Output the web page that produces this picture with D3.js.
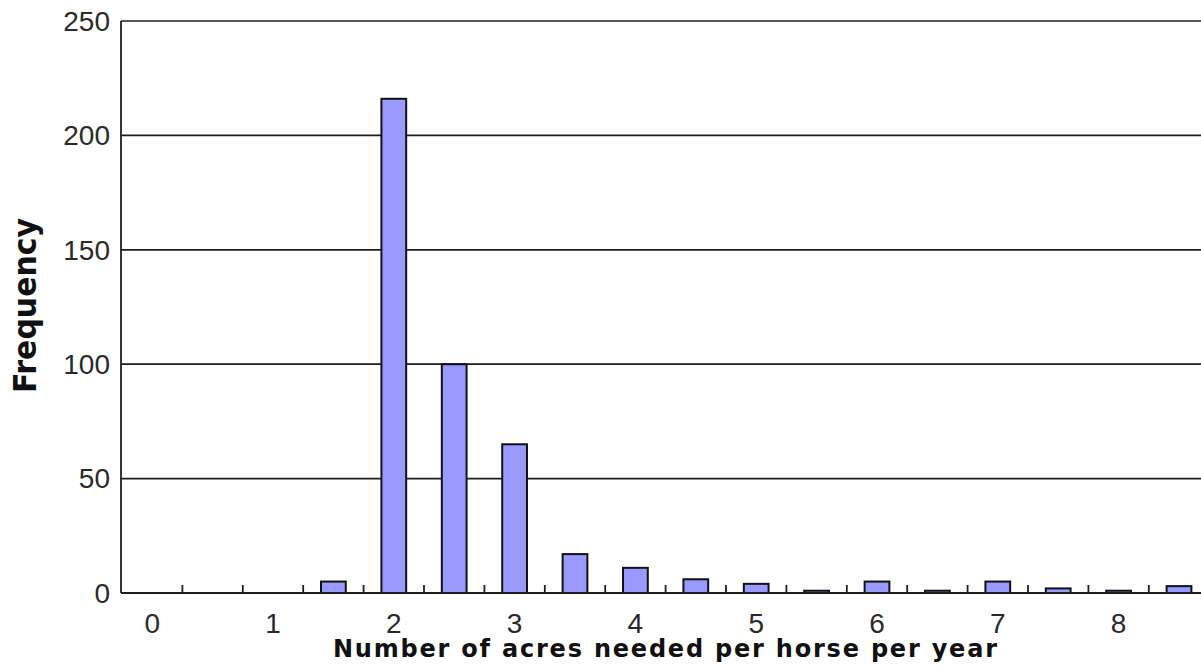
<!DOCTYPE html>
<html>
<head>
<meta charset="utf-8">
<script src="https://cdn.jsdelivr.net/npm/d3@7"></script>
<style>
  html, body { margin: 0; padding: 0; background: #fff; overflow: hidden; }
  svg { display: block; }
</style>
</head>
<body>
<div id="chart"></div>
<script>
// ---- data ----
const categories = ["0","0.5","1","1.5","2","2.5","3","3.5","4","4.5","5","5.5","6","6.5","7","7.5","8","8.5"];
const frequencies = [0, 0, 0, 5, 216, 100, 65, 17, 11, 6, 4, 1, 5, 1, 5, 2, 1, 3];
const xTickLabels = ["0","1","2","3","4","5","6","7","8"];
const yTickValues = [0, 50, 100, 150, 200, 250];
const xTitle = "Number of acres needed per horse per year";
const yTitle = "Frequency";

// ---- layout ----
const W = 1201, H = 665;
const plotLeft = 122, bandW = 60.4;
const plotTop = 21, plotBottom = 593;

const svg = d3.select("#chart").append("svg")
  .attr("width", W).attr("height", H);

const x = d3.scaleBand()
  .domain(categories)
  .range([plotLeft, plotLeft + bandW * categories.length])
  .paddingInner(0).paddingOuter(0);

const y = d3.scaleLinear().domain([0, 250]).range([plotBottom, plotTop]);

const lineColor = "#1e1e1e";

// gridlines
svg.append("g").selectAll("line")
  .data(yTickValues.filter(v => v > 0))
  .join("line")
  .attr("x1", plotLeft - 1).attr("x2", W)
  .attr("y1", d => y(d)).attr("y2", d => y(d))
  .attr("stroke", lineColor).attr("stroke-width", 1.7);

// y tick labels
svg.append("g").selectAll("text")
  .data(yTickValues)
  .join("text")
  .attr("x", 110)
  .attr("y", d => y(d))
  .attr("dy", "0.35em")
  .attr("text-anchor", "end")
  .attr("font-family", "'Liberation Sans', Arial, sans-serif")
  .attr("font-size", 28)
  .attr("fill", "#2a2a2a")
  .text(d => d);

// bars
const bw = x.bandwidth() * 0.41;
svg.append("g").selectAll("rect")
  .data(categories.map((c, i) => ({c, v: frequencies[i]})).filter(d => d.v > 0))
  .join("rect")
  .attr("x", d => x(d.c) + x.bandwidth() / 2 - bw / 2)
  .attr("y", d => y(d.v))
  .attr("width", bw)
  .attr("height", d => y(0) - y(d.v))
  .attr("fill", "#9999ff")
  .attr("stroke", "#111")
  .attr("stroke-width", 2);

// axes lines
svg.append("line")
  .attr("x1", plotLeft - 1).attr("x2", plotLeft - 1)
  .attr("y1", plotTop).attr("y2", plotBottom)
  .attr("stroke", lineColor).attr("stroke-width", 1.8);
svg.append("line")
  .attr("x1", plotLeft - 1).attr("x2", W)
  .attr("y1", plotBottom).attr("y2", plotBottom)
  .attr("stroke", lineColor).attr("stroke-width", 1.8);

// x tick marks at band boundaries (pointing up)
svg.append("g").selectAll("line")
  .data(categories.slice(1))
  .join("line")
  .attr("x1", d => x(d)).attr("x2", d => x(d))
  .attr("y1", plotBottom).attr("y2", plotBottom - 8)
  .attr("stroke", lineColor).attr("stroke-width", 1.8);

// x tick labels
svg.append("g").selectAll("text")
  .data(xTickLabels)
  .join("text")
  .attr("x", d => x(d) + x.bandwidth() / 2)
  .attr("y", 633)
  .attr("text-anchor", "middle")
  .attr("font-family", "'Liberation Sans', Arial, sans-serif")
  .attr("font-size", 28)
  .attr("fill", "#2a2a2a")
  .text(d => d);

// x title
svg.append("text")
  .attr("x", 333)
  .attr("y", 657)
  .attr("font-family", "'DejaVu Sans', Verdana, sans-serif")
  .attr("font-weight", "bold")
  .attr("font-size", 24)
  .attr("textLength", 664)
  .attr("lengthAdjust", "spacing")
  .attr("fill", "#111")
  .text(xTitle);

// y title
svg.append("text")
  .attr("transform", "translate(36,393) rotate(-90)")
  .attr("x", 0).attr("y", 0)
  .attr("font-family", "'DejaVu Sans Condensed', 'DejaVu Sans', sans-serif")
  .attr("font-stretch", "condensed")
  .attr("font-weight", "bold")
  .attr("font-size", 32)
  .attr("textLength", 175)
  .attr("lengthAdjust", "spacingAndGlyphs")
  .attr("fill", "#111")
  .text(yTitle);
</script>
</body>
</html>
